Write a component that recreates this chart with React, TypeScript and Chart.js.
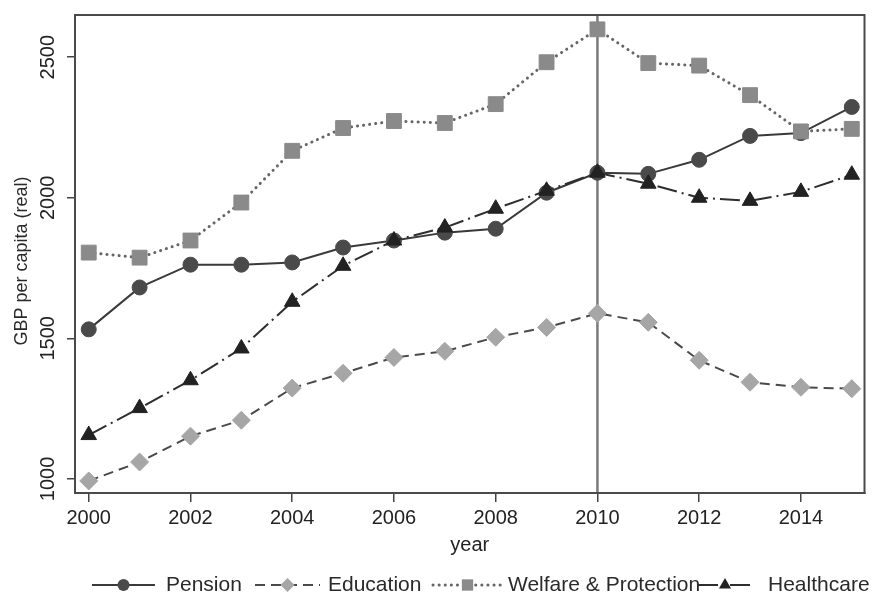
import React, { useEffect, useRef } from 'react';
import { Chart, registerables } from 'chart.js';

Chart.register(...registerables);

const years = [2000, 2001, 2002, 2003, 2004, 2005, 2006, 2007, 2008, 2009, 2010, 2011, 2012, 2013, 2014, 2015];
const pension = [1532, 1681, 1762, 1762, 1770, 1823, 1848, 1876, 1890, 2018, 2089, 2085, 2135, 2220, 2230, 2323];
const education = [993, 1060, 1152, 1209, 1323, 1376, 1432, 1454, 1504, 1539, 1589, 1557, 1422, 1344, 1326, 1321];
const welfare = [1805, 1787, 1848, 1983, 2167, 2248, 2273, 2266, 2333, 2482, 2599, 2479, 2470, 2365, 2236, 2245];
const healthcare = [1156, 1252, 1351, 1464, 1630, 1758, 1848, 1894, 1961, 2025, 2089, 2050, 2000, 1989, 2021, 2082];
const seriesNames = ['Pension', 'Education', 'Welfare & Protection', 'Healthcare'];
const xTicks = [2000, 2002, 2004, 2006, 2008, 2010, 2012, 2014];
const yTicks = [1000, 1500, 2000, 2500];
const referenceYear = 2010;
const xTitle = 'year';
const yTitle = 'GBP per capita (real)';

const FONT = '"Liberation Sans", Arial, Helvetica, sans-serif';

const styles = [
  { line: '#3a3a3a', fill: '#4a4a4a', point: 'circle', radius: 7.5, dash: [] as number[], cap: 'butt', lw: 2 },
  { line: '#4a4a4a', fill: '#a6a6a6', point: 'rectRot', radius: 9, dash: [10, 6], cap: 'butt', lw: 2 },
  { line: '#666666', fill: '#8a8a8a', point: 'rect', radius: 10.5, dash: [0.1, 6], cap: 'round', lw: 3 },
  { line: '#2e2e2e', fill: '#222222', point: 'triangle', radius: 9, dash: [20, 5, 2, 5], cap: 'butt', lw: 2 },
];

const legendLayout = [
  { x0: 92, x1: 155, tx: 166, r: 6 },
  { x0: 255, x1: 320, tx: 328, r: 7 },
  { x0: 433, x1: 502, tx: 508, r: 8 },
  { x0: 698, x1: 752, tx: 768, r: 7 },
];

function drawMarker(ctx: CanvasRenderingContext2D, style: string, r: number, x: number, y: number) {
  ctx.beginPath();
  if (style === 'circle') {
    ctx.arc(x, y, r, 0, Math.PI * 2);
  } else if (style === 'rect') {
    const s = r * Math.SQRT1_2;
    ctx.rect(x - s, y - s, 2 * s, 2 * s);
  } else if (style === 'rectRot') {
    ctx.moveTo(x, y - r);
    ctx.lineTo(x + r, y);
    ctx.lineTo(x, y + r);
    ctx.lineTo(x - r, y);
    ctx.closePath();
  } else {
    ctx.moveTo(x, y - r);
    ctx.lineTo(x + r * 0.866, y + r * 0.5);
    ctx.lineTo(x - r * 0.866, y + r * 0.5);
    ctx.closePath();
  }
  ctx.fill();
}

const framePlugin = {
  id: 'frameAndRef',
  beforeDatasetsDraw(chart: any) {
    const { ctx, chartArea } = chart;
    const px = chart.scales.x.getPixelForValue(referenceYear);
    ctx.save();
    ctx.strokeStyle = '#7a7a7a';
    ctx.lineWidth = 2.5;
    ctx.beginPath();
    ctx.moveTo(px, chartArea.top);
    ctx.lineTo(px, chartArea.bottom);
    ctx.stroke();
    ctx.restore();
  },
  afterDraw(chart: any) {
    const { ctx, chartArea } = chart;
    ctx.save();
    ctx.strokeStyle = '#4a4a4a';
    ctx.lineWidth = 2;
    ctx.strokeRect(chartArea.left, chartArea.top, chartArea.right - chartArea.left, chartArea.bottom - chartArea.top);

    // y axis title
    ctx.save();
    ctx.translate(22, (chartArea.top + chartArea.bottom) / 2 + 7);
    ctx.rotate(-Math.PI / 2);
    ctx.fillStyle = '#2a2a2a';
    ctx.font = `18px ${FONT}`;
    ctx.textAlign = 'center';
    ctx.textBaseline = 'middle';
    ctx.fillText(yTitle, 0, 0);
    ctx.restore();

    // legend
    const y = 585;
    seriesNames.forEach((name, i) => {
      const s = styles[i];
      const L = legendLayout[i];
      ctx.strokeStyle = s.line;
      ctx.lineWidth = s.lw;
      ctx.lineCap = s.cap as CanvasLineCap;
      ctx.setLineDash(s.dash);
      ctx.beginPath();
      ctx.moveTo(L.x0, y);
      ctx.lineTo(L.x1, y);
      ctx.stroke();
      ctx.setLineDash([]);
      ctx.lineCap = 'butt';
      ctx.fillStyle = s.fill;
      drawMarker(ctx, s.point, L.r, (L.x0 + L.x1) / 2, y);
      ctx.fillStyle = '#2a2a2a';
      ctx.font = `21px ${FONT}`;
      ctx.textBaseline = 'middle';
      ctx.textAlign = 'left';
      ctx.fillText(name, L.tx, y);
    });
    ctx.restore();
  },
};

export default function App() {
  const ref = useRef<HTMLCanvasElement | null>(null);
  useEffect(() => {
    document.body.style.margin = '0';
    if (!ref.current) return;
    const series = [pension, education, welfare, healthcare];
    const chart = new Chart(ref.current, {
      type: 'line',
      data: {
        datasets: series.map((vals, i) => ({
          label: seriesNames[i],
          data: years.map((yr, j) => ({ x: yr, y: vals[j] })),
          borderColor: styles[i].line,
          borderWidth: styles[i].lw,
          borderDash: styles[i].dash,
          borderCapStyle: styles[i].cap as any,
          backgroundColor: styles[i].fill,
          pointStyle: styles[i].point as any,
          pointRadius: styles[i].radius,
          pointBackgroundColor: styles[i].fill,
          pointBorderColor: styles[i].fill,
          pointBorderWidth: 1,
          fill: false,
          tension: 0,
          order: 4 - i,
        })),
      },
      options: {
        animation: false,
        responsive: false,
        layout: { padding: { left: 0, top: 15, right: 8, bottom: 38 } },
        plugins: { legend: { display: false }, tooltip: { enabled: false } },
        scales: {
          x: {
            type: 'linear',
            min: 1999.73,
            max: 2015.25,
            afterBuildTicks: (s: any) => {
              s.ticks = xTicks.map((v) => ({ value: v }));
            },
            afterFit: (s: any) => {
              s.height = 64;
            },
            grid: { display: true, drawOnChartArea: false, drawTicks: true, tickLength: 9, color: '#444', lineWidth: 1.5 },
            border: { display: true, color: '#444', width: 2 },
            ticks: {
              font: { family: FONT, size: 20 },
              color: '#222',
              padding: 4,
              maxRotation: 0,
              autoSkip: false,
              callback: (v: any) => String(v),
            },
            title: { display: true, text: xTitle, font: { family: FONT, size: 20 }, color: '#222', padding: 0 },
          },
          y: {
            type: 'linear',
            min: 950,
            max: 2650,
            afterBuildTicks: (s: any) => {
              s.ticks = yTicks.map((v) => ({ value: v }));
            },
            afterFit: (s: any) => {
              s.width = 75;
            },
            grid: { display: true, drawOnChartArea: false, drawTicks: true, tickLength: 8, color: '#444', lineWidth: 1.5 },
            border: { display: true, color: '#444', width: 2 },
            ticks: {
              font: { family: FONT, size: 20 },
              color: '#222',
              padding: -4,
              minRotation: 90,
              maxRotation: 90,
              crossAlign: 'center',
              autoSkip: false,
              callback: (v: any) => String(v),
            },
            title: { display: false, text: yTitle },
          },
        },
      },
      plugins: [framePlugin],
    });
    return () => chart.destroy();
  }, []);
  return (
    <div style={{ width: 876, height: 595, background: '#fff' }}>
      <canvas ref={ref} width={876} height={595} style={{ display: 'block' }} />
    </div>
  );
}
